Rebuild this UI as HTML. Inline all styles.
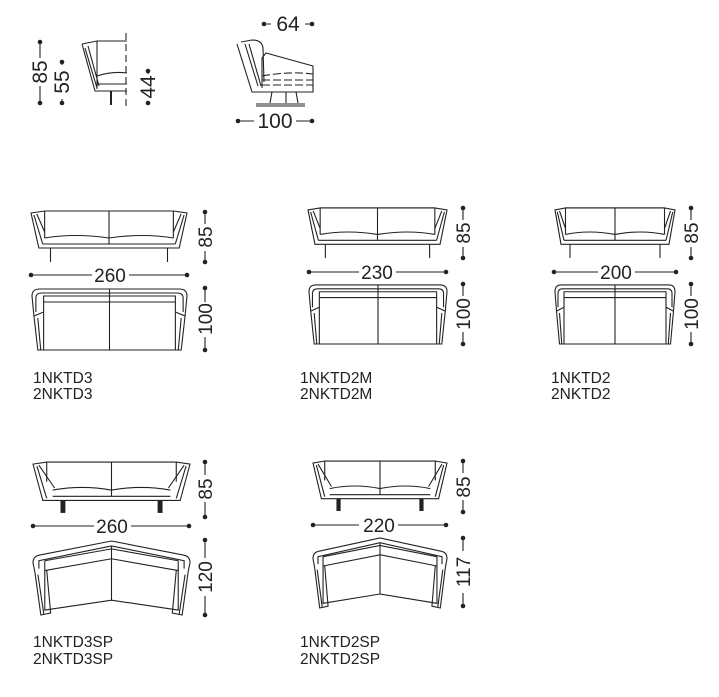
<!DOCTYPE html>
<html><head><meta charset="utf-8"><style>
html,body{margin:0;padding:0;background:#fff;}
svg{display:block}
text{font-family:"Liberation Sans",sans-serif;fill:#222}
.l{fill:none;stroke:#222;stroke-width:1.1}
.s{vector-effect:non-scaling-stroke}
</style></head><body>
<svg width="719" height="697" viewBox="0 0 719 697" xmlns="http://www.w3.org/2000/svg">
<defs>
<symbol id="front" viewBox="0 0 160 52" preserveAspectRatio="none" overflow="visible">
<g class="l">
<path class="s" d="M0,3 L14,1 L146,1 L160,3 L152,38 L8,38 Z"/>
<path class="s" d="M14,1 L14,28 M146,1 L146,28 M14,1 L146,1"/>
<path class="s" d="M3,5 L12,34 M157,5 L148,34 M6,4 L14,22 M154,4 L146,22"/>
<path class="s" d="M14,28 Q45,23 80,28 Q115,23 146,28"/>
<path class="s" d="M12,34 L148,34 M80,1 L80,34"/>
<path class="s" d="M20,38 L20,52 M140,38 L140,52"/>
</g></symbol>
<symbol id="frontsp" viewBox="0 0 160 52" preserveAspectRatio="none" overflow="visible">
<g class="l">
<path class="s" d="M0,3 L14,1 L146,1 L160,3 L150,38 L10,38 Z"/>
<path class="s" d="M14,1 L14,20 M146,1 L146,20 M80,1 L80,34"/>
<path class="s" d="M4,5 L14,36 M156,5 L146,36 M6,4 L22,26 M154,4 L138,26"/>
<path class="s" d="M20,28 Q50,23 80,28 Q110,23 140,28 M20,34 L140,34"/>
</g>
<rect x="28" y="38" width="5" height="12" fill="#222"/><rect x="127" y="38" width="5" height="12" fill="#222"/>
</symbol>
<symbol id="top" viewBox="0 0 160 62" preserveAspectRatio="none" overflow="visible">
<g class="l">
<path class="s" d="M2,28 L0,8 Q0,1 8,1 L152,1 Q160,1 160,8 L158,28"/>
<path class="s" d="M12,14 L12,8 L148,8 L148,14 M4,24 L4,10 Q4,5 10,5 L150,5 Q156,5 156,10 L156,24"/>
<path class="s" d="M12,14 L148,14 M12,14 L12,62 M148,14 L148,62"/>
<path class="s" d="M2,28 L6,62 L154,62 L158,28 L148,24 M2,28 L12,24 M6,30 L9,62 M154,30 L151,62"/>
<path class="s" d="M80,1 L80,62"/>
</g></symbol>
<symbol id="vtop" viewBox="0 0 160 75" preserveAspectRatio="none" overflow="visible">
<g class="l">
<path class="s" d="M2,32 L0,22 Q0,15 8,14 L80,0 L152,14 Q160,15 160,22 L158,32"/>
<path class="s" d="M6,28 L6,20 L80,5 L154,20 L154,28 M12,20 L80,8 L148,20"/>
<path class="s" d="M12,20 L12,30 L80,18 L148,30 L148,20 M80,5 L80,60"/>
<path class="s" d="M12,30 L12,70 L80,60 L148,70 L148,30"/>
<path class="s" d="M2,32 L8,75 L18,73 L14,30 M158,32 L152,75 L142,73 L146,30 M5,34 L11,74 M155,34 L149,74"/>
</g></symbol>
</defs>

<g class="l">
<path d="M82,44 L95,91 L127,91 M82,44 L97,41 L127,41 M85,48 L97,88 M88,46 L99,86 M97,41 L97,89"/>
<path d="M97,76 Q112,71 127,73 M97,84 L127,84"/>
<path d="M111,91 L111,105" stroke-width="2"/>
<path d="M126,33 L126,110" stroke-dasharray="7,4"/>
<path d="M237,44 L252,92 L313,92 L313,66 L266,53 L262,58 L262,88 M241,42 L252,40 Q262,40 263,48 L264,82 M245,44 L258,86 M249,44 L261,86"/>
<path d="M262,76 Q290,71 313,74 M262,80 L313,80 M262,85 L313,85" stroke-dasharray="8,3"/>
<path d="M272,92 L270,103 M286,92 L286,103 M296,92 L298,103 M256,104 L305,104 M256,106 L305,106"/>
</g>
<g fill="#222">
<circle cx="40" cy="42" r="2.3"/><circle cx="40" cy="103" r="2.3"/>
<circle cx="62" cy="62" r="2.3"/><circle cx="62" cy="103" r="2.3"/>
<circle cx="148" cy="71" r="2.3"/><circle cx="148" cy="103" r="2.3"/>
<circle cx="264" cy="24" r="2.3"/><circle cx="312" cy="24" r="2.3"/>
<circle cx="238" cy="121" r="2.3"/><circle cx="312" cy="121" r="2.3"/>
</g>
<g stroke="#222" stroke-width="1.1">
<path d="M40,42 V58 M40,86 V103 M62,62 V65 M62,99 V103 M148,71 V74 M148,101 V103 M264,24 H271 M305,24 H312 M238,121 H254 M296,121 H312"/>
</g>
<text transform="translate(47,72) rotate(-90)" font-size="21" text-anchor="middle">85</text>
<text transform="translate(69,82) rotate(-90)" font-size="21" text-anchor="middle">55</text>
<text transform="translate(155,87) rotate(-90)" font-size="21" text-anchor="middle">44</text>
<text x="288" y="31" font-size="21" text-anchor="middle">64</text>
<text x="275" y="128" font-size="21" text-anchor="middle">100</text>

<use href="#front" x="31" y="210" width="156" height="52"/>
<use href="#top" x="32" y="288" width="155" height="62"/>
<use href="#front" x="308" y="207" width="139" height="51"/>
<use href="#top" x="309" y="284" width="138" height="60"/>
<use href="#front" x="555" y="207" width="120" height="51"/>
<use href="#top" x="555" y="284" width="120" height="60"/>
<use href="#frontsp" x="33" y="461" width="157" height="54"/>
<use href="#vtop" x="33" y="541" width="157" height="74"/>
<use href="#frontsp" x="313" y="460" width="134" height="53"/>
<use href="#vtop" x="313" y="538" width="134" height="70"/>

<g fill="#222">
<circle cx="205" cy="212" r="2.3"/><circle cx="205" cy="262" r="2.3"/>
<circle cx="205" cy="288" r="2.3"/><circle cx="205" cy="350" r="2.3"/>
<circle cx="31" cy="275" r="2.3"/><circle cx="187" cy="275" r="2.3"/>
<circle cx="463" cy="208" r="2.3"/><circle cx="463" cy="258" r="2.3"/>
<circle cx="463" cy="284" r="2.3"/><circle cx="463" cy="344" r="2.3"/>
<circle cx="309" cy="272" r="2.3"/><circle cx="446" cy="272" r="2.3"/>
<circle cx="691" cy="208" r="2.3"/><circle cx="691" cy="258" r="2.3"/>
<circle cx="691" cy="284" r="2.3"/><circle cx="691" cy="344" r="2.3"/>
<circle cx="554" cy="272" r="2.3"/><circle cx="676" cy="272" r="2.3"/>
<circle cx="205" cy="462" r="2.3"/><circle cx="205" cy="517" r="2.3"/>
<circle cx="205" cy="540" r="2.3"/><circle cx="205" cy="615" r="2.3"/>
<circle cx="33" cy="526" r="2.3"/><circle cx="189" cy="526" r="2.3"/>
<circle cx="463" cy="461" r="2.3"/><circle cx="463" cy="512" r="2.3"/>
<circle cx="463" cy="538" r="2.3"/><circle cx="463" cy="606" r="2.3"/>
<circle cx="313" cy="525" r="2.3"/><circle cx="446" cy="525" r="2.3"/>
</g>
<g stroke="#222" stroke-width="1.1">
<path d="M205,212 V224 M205,251 V262 M205,288 V302 M205,337 V350 M31,275 H92 M129,275 H187"/>
<path d="M463,208 V220 M463,247 V258 M463,284 V296 M463,332 V344 M309,272 H359 M396,272 H446"/>
<path d="M691,208 V220 M691,247 V258 M691,284 V296 M691,332 V344 M554,272 H598 M635,272 H676"/>
<path d="M205,462 V475 M205,502 V517 M205,540 V558 M205,596 V615 M33,526 H94 M131,526 H189"/>
<path d="M463,461 V473 M463,500 V512 M463,538 V551 M463,593 V606 M313,525 H359 M398,525 H446"/>
</g>
<g font-size="19" text-anchor="middle">
<text transform="translate(212,237) rotate(-90)">85</text>
<text transform="translate(212,319) rotate(-90)">100</text>
<text x="110" y="282">260</text>
<text transform="translate(470,233) rotate(-90)">85</text>
<text transform="translate(470,314) rotate(-90)">100</text>
<text x="377" y="279">230</text>
<text transform="translate(698,233) rotate(-90)">85</text>
<text transform="translate(698,314) rotate(-90)">100</text>
<text x="616" y="279">200</text>
<text transform="translate(212,489) rotate(-90)">85</text>
<text transform="translate(212,577) rotate(-90)">120</text>
<text x="112" y="533">260</text>
<text transform="translate(470,487) rotate(-90)">85</text>
<text transform="translate(470,572) rotate(-90)">117</text>
<text x="379" y="532">220</text>
</g>
<g font-size="15.5">
<text x="33" y="383">1NKTD3</text><text x="33" y="399">2NKTD3</text>
<text x="300" y="383">1NKTD2M</text><text x="300" y="399">2NKTD2M</text>
<text x="551" y="383">1NKTD2</text><text x="551" y="399">2NKTD2</text>
<text x="33" y="647">1NKTD3SP</text><text x="33" y="664">2NKTD3SP</text>
<text x="300" y="647">1NKTD2SP</text><text x="300" y="664">2NKTD2SP</text>
</g>
</svg>
</body></html>
